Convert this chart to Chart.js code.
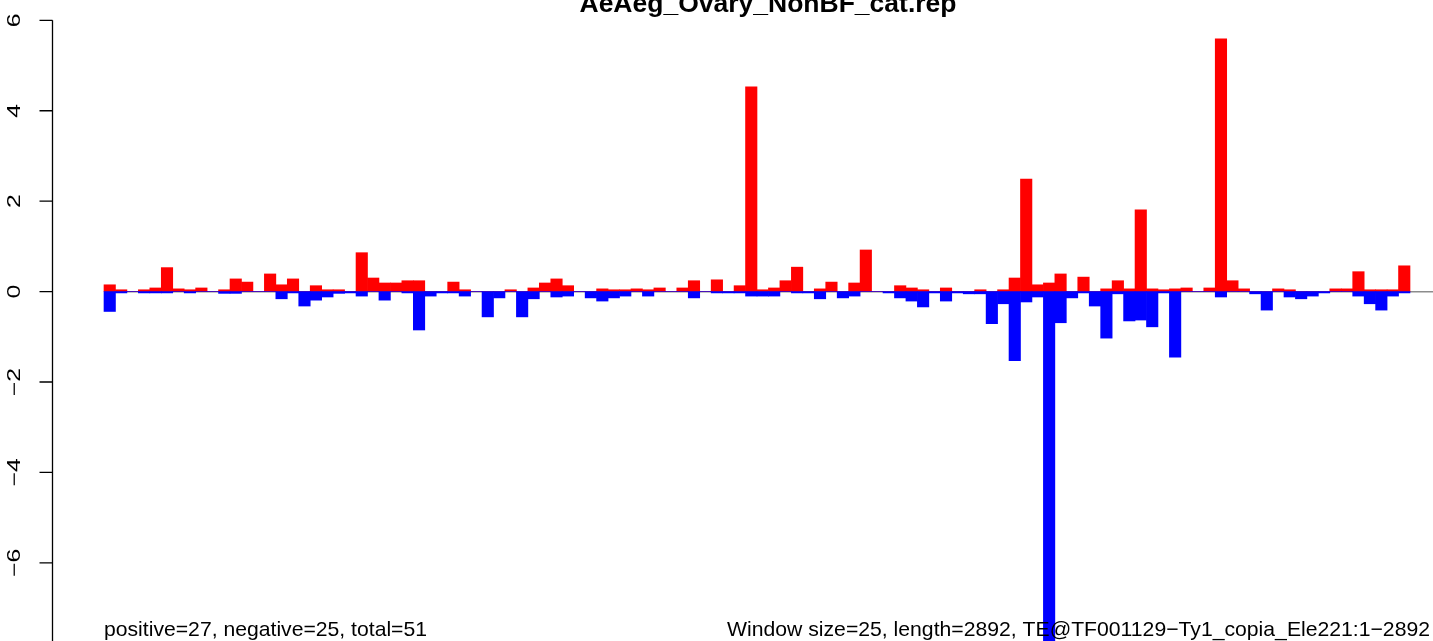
<!DOCTYPE html>
<html>
<head>
<meta charset="utf-8">
<script src="https://cdn.jsdelivr.net/npm/chart.js@4/dist/chart.umd.min.js"></script>
<style>
html,body{margin:0;padding:0;background:#fff;}
canvas{display:block;}
</style>
</head>
<body>
<canvas id="c" width="1433" height="641"></canvas>
<script>
const titleText = "AeAeg_Ovary_NonBF_cat.rep";
const leftNote = "positive=27, negative=25, total=51";
const rightNote = "Window size=25, length=2892, TE@TF001129\u2212Ty1_copia_Ele221:1\u22122892";
const yTicks = [-6, -4, -2, 0, 2, 4, 6];
const posValues = [
0.15,0.04,0,0.04,0.08,0.53,0.06,0.04,0.08,0,
0.04,0.28,0.21,0,0.39,0.15,0.28,0,0.13,0.04,
0.04,0,0.86,0.30,0.19,0.19,0.24,0.24,0,0,
0.21,0.04,0,0,0,0.04,0,0.08,0.19,0.28,
0.13,0,0,0.06,0.04,0.04,0.06,0.04,0.08,0,
0.08,0.24,0,0.26,0,0.13,4.53,0.04,0.08,0.24,
0.54,0,0.06,0.21,0,0.19,0.92,0,0,0.13,
0.08,0.04,0,0.08,0,0,0.04,0,0.04,0.30,
2.49,0.15,0.19,0.39,0,0.32,0,0.06,0.24,0.06,
1.81,0.06,0.04,0.06,0.08,0,0.08,5.59,0.24,0.06,
0,0,0.06,0.04,0,0,0,0.06,0.06,0.44,
0.04,0.04,0.04,0.57];
const negValues = [
-0.44,-0.03,0,-0.03,-0.03,-0.03,0,-0.03,0,0,
-0.04,-0.04,0,0,0,-0.16,-0.03,-0.32,-0.19,-0.12,
-0.04,-0.03,-0.10,0,-0.19,0,-0.03,-0.85,-0.10,-0.03,
-0.03,-0.10,0,-0.56,-0.14,0,-0.56,-0.16,0,-0.12,
-0.10,0,-0.14,-0.21,-0.14,-0.10,0,-0.10,0,0,
0,-0.14,0,-0.03,-0.03,-0.03,-0.10,-0.10,-0.10,0,
-0.03,-0.03,-0.16,0,-0.14,-0.10,0,0,-0.03,-0.14,
-0.21,-0.34,-0.03,-0.21,-0.03,-0.05,-0.05,-0.71,-0.27,-1.53,
-0.23,-0.12,-8.0,-0.69,-0.14,-0.03,-0.32,-1.03,-0.05,-0.65,
-0.63,-0.78,-0.03,-1.45,0,0,0,-0.12,0,0,
-0.05,-0.41,0,-0.12,-0.16,-0.10,-0.03,0,0,-0.10,
-0.27,-0.41,-0.10,-0.03];
const nBins = posValues.length;

function drawFitted(ctx, text, x, y, fontPx, bold, targetW, align, rot) {
  ctx.save();
  ctx.font = (bold ? "bold " : "") + fontPx + "px 'Liberation Sans', Arial, sans-serif";
  const w = ctx.measureText(text).width;
  const s = targetW / w;
  ctx.translate(x, y);
  if (rot) ctx.rotate(-Math.PI / 2);
  ctx.scale(s, 1);
  ctx.textBaseline = "alphabetic";
  ctx.textAlign = align;
  ctx.fillStyle = "#000";
  ctx.fillText(text, 0, 0);
  ctx.restore();
}

const decor = {
  id: "decor",
  beforeDatasetsDraw(chart) {
    const ctx = chart.ctx, xs = chart.scales.x, ys = chart.scales.y;
    const y0 = ys.getPixelForValue(0);
    ctx.save();
    ctx.strokeStyle = "#8c8c8c";
    ctx.lineWidth = 1.5;
    ctx.beginPath();
    ctx.moveTo(xs.getPixelForValue(0), y0 + 0.2);
    ctx.lineTo(chart.width, y0 + 0.2);
    ctx.stroke();
    ctx.restore();
  },
  afterDraw(chart) {
    const ctx = chart.ctx, xs = chart.scales.x, ys = chart.scales.y;
    const ax = Math.round(xs.getPixelForValue(-0.04 * nBins)) + 0.5;
    ctx.save();
    ctx.strokeStyle = "#000";
    ctx.lineWidth = 1.3;
    ctx.beginPath();
    ctx.moveTo(ax, ys.getPixelForValue(yTicks[yTicks.length - 1]));
    ctx.lineTo(ax, chart.height);
    for (const t of yTicks) {
      const py = ys.getPixelForValue(t);
      ctx.moveTo(ax, py);
      ctx.lineTo(ax - 13, py);
    }
    ctx.stroke();
    ctx.restore();
    for (const t of yTicks) {
      const py = ys.getPixelForValue(t);
      const lab = t < 0 ? "\u2212" + Math.abs(t) : String(t);
      ctx.save();
      ctx.font = "18px 'Liberation Sans', Arial, sans-serif";
      ctx.translate(20, py);
      ctx.rotate(-Math.PI / 2);
      ctx.scale(1.38, 1);
      ctx.textAlign = "center";
      ctx.textBaseline = "alphabetic";
      ctx.fillStyle = "#000";
      ctx.fillText(lab, 0, 0);
      ctx.restore();
    }
    drawFitted(ctx, titleText, 768, 12, 26, true, 377, "center", false);
    drawFitted(ctx, leftNote, xs.getPixelForValue(0), 636, 21, false, 323, "left", false);
    drawFitted(ctx, rightNote, 1430, 636, 21, false, 703, "right", false);
  }
};

const toPts = arr => arr.map((v, i) => ({x: i + 0.5, y: v}));

new Chart(document.getElementById("c"), {
  type: "bar",
  data: {
    datasets: [
      {label: "negative", data: toPts(negValues), backgroundColor: "#0000ff", order: 0},
      {label: "positive", data: toPts(posValues), backgroundColor: "#ff0000", order: 1}
    ]
  },
  options: {
    responsive: false,
    animation: false,
    devicePixelRatio: 1,
    layout: {padding: 0},
    datasets: {bar: {grouped: false, barPercentage: 1, categoryPercentage: 1, borderWidth: 0}},
    plugins: {legend: {display: false}, tooltip: {enabled: false}, title: {display: false}},
    scales: {
      x: {type: "linear", offset: false, min: -9.078, max: 116.008, display: false},
      y: {min: -7.73, max: 6.45, display: false}
    }
  },
  plugins: [decor]
});
</script>
</body>
</html>
